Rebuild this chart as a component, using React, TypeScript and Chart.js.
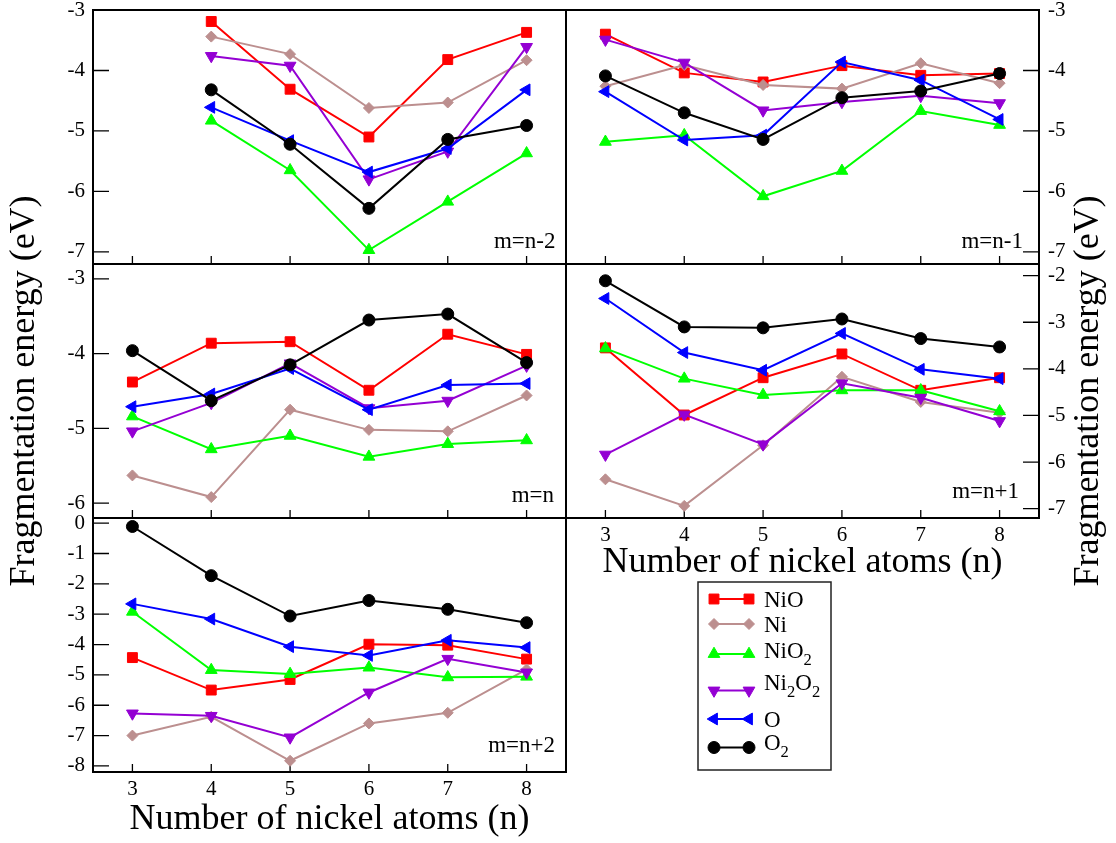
import React, { useEffect, useRef } from 'react';
import { Chart, registerables } from 'chart.js';
import { drawPoint } from 'chart.js/helpers';

Chart.register(...registerables);

const FONT = "'Liberation Serif', 'Times New Roman', Times, serif";

// ---------------- data ----------------
const N_ATOMS = [3, 4, 5, 6, 7, 8];
const X_TICKS = [3, 4, 5, 6, 7, 8];
const SERIES_NAMES = ['NiO', 'Ni', 'NiO₂', 'Ni₂O₂', 'O', 'O₂'];
const PANEL_LABELS = ['m=n-2', 'm=n-1', 'm=n', 'm=n+1', 'm=n+2'];
const X_TITLE = 'Number of nickel atoms (n)';
const Y_TITLE = 'Fragmentation energy (eV)';

const Y_TICKS_TOP = [-7, -6, -5, -4, -3];
const Y_TICKS_MID_L = [-6, -5, -4, -3];
const Y_TICKS_MID_R = [-7, -6, -5, -4, -3, -2];
const Y_TICKS_BOT = [-8, -7, -6, -5, -4, -3, -2, -1, 0];

// m = n-2
const NIO_M2 = [null, -3.19, -4.31, -5.10, -3.82, -3.37];
const NI_M2 = [null, -3.44, -3.73, -4.62, -4.53, -3.83];
const NIO2_M2 = [null, -4.83, -5.65, -6.97, -6.17, -5.37];
const NI2O2_M2 = [null, -3.76, -3.92, -5.80, -5.34, -3.61];
const O_M2 = [null, -4.61, -5.16, -5.68, -5.29, -4.32];
const O2_M2 = [null, -4.32, -5.22, -6.28, -5.14, -4.91];

// m = n-1
const NIO_M1 = [-3.40, -4.04, -4.19, -3.92, -4.08, -4.05];
const NI_M1 = [-4.26, -3.91, -4.24, -4.30, -3.88, -4.21];
const NIO2_M1 = [-5.18, -5.07, -6.08, -5.66, -4.67, -4.90];
const NI2O2_M1 = [-3.49, -3.87, -4.66, -4.52, -4.42, -4.54];
const O_M1 = [-4.35, -5.15, -5.07, -3.86, -4.16, -4.81];
const O2_M1 = [-4.09, -4.70, -5.14, -4.45, -4.34, -4.05];

// m = n
const NIO_M0 = [-4.38, -3.86, -3.84, -4.49, -3.74, -4.01];
const NI_M0 = [-5.63, -5.92, -4.75, -5.02, -5.04, -4.56];
const NIO2_M0 = [-4.84, -5.28, -5.10, -5.38, -5.21, -5.16];
const NI2O2_M0 = [-5.04, -4.66, -4.13, -4.73, -4.63, -4.16];
const O_M0 = [-4.71, -4.54, -4.20, -4.75, -4.42, -4.40];
const O2_M0 = [-3.96, -4.63, -4.15, -3.55, -3.47, -4.12];

// m = n+1
const NIO_P1 = [-3.55, -4.99, -4.19, -3.68, -4.46, -4.19];
const NI_P1 = [-6.37, -6.94, -5.64, -4.17, -4.71, -4.94];
const NIO2_P1 = [-3.56, -4.21, -4.56, -4.46, -4.46, -4.91];
const NI2O2_P1 = [-5.84, -4.98, -5.62, -4.31, -4.62, -5.12];
const O_P1 = [-2.49, -3.65, -4.03, -3.24, -4.01, -4.21];
const O2_P1 = [-2.11, -3.10, -3.12, -2.93, -3.35, -3.53];

// m = n+2
const NIO_P2 = [-4.43, -5.50, -5.15, -3.99, -4.02, -4.48];
const NI_P2 = [-7.00, -6.38, -7.83, -6.60, -6.25, -4.82];
const NIO2_P2 = [-2.92, -4.84, -4.97, -4.76, -5.08, -5.06];
const NI2O2_P2 = [-6.27, -6.35, -7.06, -5.58, -4.47, -4.92];
const O_P2 = [-2.66, -3.16, -4.07, -4.36, -3.86, -4.10];
const O2_P2 = [-0.11, -1.73, -3.06, -2.55, -2.84, -3.28];

// ---------------- styles ----------------
const STYLES = [
  { color: '#ff0000', pointStyle: 'rect', radius: 7, rotation: 0 },
  { color: '#bc8f8f', pointStyle: 'rectRot', radius: 5.5, rotation: 0 },
  { color: '#00ff00', pointStyle: 'triangle', radius: 6.8, rotation: 0 },
  { color: '#9400d3', pointStyle: 'triangle', radius: 6.8, rotation: 180 },
  { color: '#0000ff', pointStyle: 'triangle', radius: 6.8, rotation: 270 },
  { color: '#000000', pointStyle: 'circle', radius: 6, rotation: 0 },
];

const PAGE_W = 1116;
const PAGE_H = 843;

type Panel = {
  values: (number | null)[][];
  label: string;
  yMin: number;
  yMax: number;
  yTicks: number[];
  rect: { l: number; t: number; r: number; b: number };
  side: 'left' | 'right';
  xLabels: boolean;
  bottomPad: number;
  xTitlePad: number;
  yTitle: boolean;
  sideTitle: boolean;
  labelOff: [number, number];
  legend: boolean;
};

const PANELS: Panel[] = [
  {
    values: [NIO_M2, NI_M2, NIO2_M2, NI2O2_M2, O_M2, O2_M2], label: PANEL_LABELS[0],
    yMin: -7.2, yMax: -3, yTicks: Y_TICKS_TOP, rect: { l: 93, t: 10, r: 566, b: 264 },
    side: 'left', xLabels: false, bottomPad: 0, xTitlePad: 0, yTitle: false, sideTitle: false,
    labelOff: [10.5, 15.7], legend: false,
  },
  {
    values: [NIO_M1, NI_M1, NIO2_M1, NI2O2_M1, O_M1, O2_M1], label: PANEL_LABELS[1],
    yMin: -7.2, yMax: -3, yTicks: Y_TICKS_TOP, rect: { l: 566, t: 10, r: 1039, b: 264 },
    side: 'right', xLabels: false, bottomPad: 0, xTitlePad: 0, yTitle: false, sideTitle: false,
    labelOff: [16, 15.7], legend: false,
  },
  {
    values: [NIO_M0, NI_M0, NIO2_M0, NI2O2_M0, O_M0, O2_M0], label: PANEL_LABELS[2],
    yMin: -6.2, yMax: -2.8, yTicks: Y_TICKS_MID_L, rect: { l: 93, t: 264, r: 566, b: 518 },
    side: 'left', xLabels: false, bottomPad: 0, xTitlePad: 0, yTitle: true, sideTitle: false,
    labelOff: [12, 16.3], legend: false,
  },
  {
    values: [NIO_P1, NI_P1, NIO2_P1, NI2O2_P1, O_P1, O2_P1], label: PANEL_LABELS[3],
    yMin: -7.2, yMax: -1.75, yTicks: Y_TICKS_MID_R, rect: { l: 566, t: 264, r: 1039, b: 518 },
    side: 'right', xLabels: true, bottomPad: 257, xTitlePad: 1.5, yTitle: false, sideTitle: true,
    labelOff: [20, 19.7], legend: false,
  },
  {
    values: [NIO_P2, NI_P2, NIO2_P2, NI2O2_P2, O_P2, O2_P2], label: PANEL_LABELS[4],
    yMin: -8.2, yMax: 0.17, yTicks: Y_TICKS_BOT, rect: { l: 93, t: 518, r: 566, b: 772 },
    side: 'left', xLabels: true, bottomPad: 0, xTitlePad: 2, yTitle: false, sideTitle: false,
    labelOff: [11, 20.3], legend: true,
  },
];

const SUBS = '₀₁₂₃₄₅₆₇₈₉';

function drawRich(ctx: CanvasRenderingContext2D, text: string, x: number, y: number, size: number) {
  let cx = x;
  ctx.textAlign = 'left';
  ctx.textBaseline = 'alphabetic';
  for (const ch of text) {
    const idx = SUBS.indexOf(ch);
    if (idx >= 0) {
      ctx.font = `${size * 0.72}px ${FONT}`;
      const s = String(idx);
      ctx.fillText(s, cx, y + size * 0.3);
      cx += ctx.measureText(s).width;
    } else {
      ctx.font = `${size}px ${FONT}`;
      ctx.fillText(ch, cx, y);
      cx += ctx.measureText(ch).width;
    }
  }
}

const panelDecor = {
  id: 'panelDecor',
  beforeDatasetsDraw(chart: any, _args: any, o: any) {
    const { ctx, chartArea: a } = chart;
    const xs = chart.scales.x;
    const ys = chart.scales.y;
    ctx.save();
    ctx.strokeStyle = '#000';
    ctx.lineWidth = 1.3;
    ctx.beginPath();
    for (const t of xs.ticks) {
      const px = xs.getPixelForValue(t.value);
      ctx.moveTo(px, a.bottom);
      ctx.lineTo(px, a.bottom - 8);
    }
    for (const t of ys.ticks) {
      const py = ys.getPixelForValue(t.value);
      if (o.side === 'left') {
        ctx.moveTo(a.left, py);
        ctx.lineTo(a.left + 16, py);
      } else {
        ctx.moveTo(a.right, py);
        ctx.lineTo(a.right - 16, py);
      }
    }
    ctx.stroke();
    ctx.lineWidth = 2;
    ctx.strokeRect(a.left, a.top, a.right - a.left, a.bottom - a.top);
    ctx.restore();
  },
  afterDraw(chart: any, _args: any, o: any) {
    const { ctx, chartArea: a } = chart;
    ctx.save();
    ctx.fillStyle = '#000';
    ctx.font = `23px ${FONT}`;
    ctx.textAlign = 'right';
    ctx.textBaseline = 'alphabetic';
    ctx.fillText(o.label, a.right - o.labelOff[0], a.bottom - o.labelOff[1]);

    if (o.sideTitle) {
      ctx.save();
      ctx.translate(o.sideTitle.x, (a.top + a.bottom) / 2);
      ctx.rotate(-Math.PI / 2);
      ctx.font = `36px ${FONT}`;
      ctx.textAlign = 'center';
      ctx.textBaseline = 'middle';
      ctx.fillText(o.sideTitle.text, 0, 0);
      ctx.restore();
    }

    if (o.legend) {
      const L = o.legend;
      ctx.lineWidth = 1.5;
      ctx.strokeStyle = '#222';
      ctx.strokeRect(L.box[0], L.box[1], L.box[2] - L.box[0], L.box[3] - L.box[1]);
      chart.data.datasets.forEach((ds: any, i: number) => {
        const ly = L.lineY[i];
        ctx.strokeStyle = ds.borderColor;
        ctx.lineWidth = 2;
        ctx.beginPath();
        ctx.moveTo(L.x0, ly);
        ctx.lineTo(L.x1, ly);
        ctx.stroke();
        ctx.fillStyle = ds.pointBackgroundColor;
        ctx.strokeStyle = ds.pointBorderColor;
        ctx.lineWidth = 1;
        const po = { pointStyle: ds.pointStyle, rotation: ds.pointRotation, radius: ds.pointRadius, borderWidth: 1 };
        drawPoint(ctx, po as any, L.x0, ly);
        drawPoint(ctx, po as any, L.x1, ly);
        ctx.fillStyle = '#000';
        drawRich(ctx, ds.label, L.textX, L.baseY[i], 23);
      });
    }
    ctx.restore();
  },
};

function buildDatasets(values: (number | null)[][]) {
  return values.map((vals, i) => {
    const st = STYLES[i];
    return {
      label: SERIES_NAMES[i],
      data: N_ATOMS.map((n, k) => ({ x: n, y: vals[k] })).filter((p) => p.y !== null),
      borderColor: st.color,
      backgroundColor: st.color,
      borderWidth: 2,
      pointStyle: st.pointStyle,
      pointRadius: st.radius,
      pointHoverRadius: st.radius,
      pointRotation: st.rotation,
      pointBorderWidth: 1,
      pointBackgroundColor: st.color,
      pointBorderColor: st.color,
      tension: 0,
      order: values.length - i,
      clip: false,
    };
  });
}

function makeConfig(p: Panel): any {
  const yW = p.side === 'left' ? p.rect.l : PAGE_W - p.rect.r;
  const xH = p.xLabels ? PAGE_H - p.rect.b - p.bottomPad : 0;
  const padding = {
    left: p.side === 'left' ? 0 : p.rect.l,
    right: p.side === 'left' ? PAGE_W - p.rect.r : 0,
    top: p.rect.t,
    bottom: p.xLabels ? p.bottomPad : PAGE_H - p.rect.b,
  };
  const zeroPad = (s: any) => {
    s.paddingLeft = 0;
    s.paddingRight = 0;
    s.paddingTop = 0;
    s.paddingBottom = 0;
  };
  return {
    type: 'line',
    data: { datasets: buildDatasets(p.values) },
    plugins: [panelDecor],
    options: {
      animation: false,
      responsive: false,
      devicePixelRatio: 1,
      events: [],
      layout: { padding, autoPadding: false },
      plugins: {
        legend: { display: false },
        tooltip: { enabled: false },
        panelDecor: {
          side: p.side,
          label: p.label,
          labelOff: p.labelOff,
          sideTitle: p.sideTitle ? { text: Y_TITLE, x: 1089 } : null,
          legend: p.legend
            ? {
                box: [698, 582, 831, 770],
                x0: 714,
                x1: 749,
                textX: 764,
                lineY: [599, 624, 654, 690.5, 719, 747.5],
                baseY: [606.7, 631.7, 658.3, 690, 726.7, 750],
              }
            : null,
        },
      },
      scales: {
        x: {
          type: 'linear',
          min: 2.5,
          max: 8.5,
          display: p.xLabels,
          grid: { display: false, drawTicks: false, tickLength: 0 },
          border: { display: false },
          afterBuildTicks: (s: any) => {
            s.ticks = X_TICKS.map((v) => ({ value: v }));
          },
          afterFit: (s: any) => {
            s.height = xH;
            zeroPad(s);
          },
          ticks: {
            font: { size: 21, family: FONT },
            color: '#000',
            padding: 5,
            maxRotation: 0,
            autoSkip: false,
            callback: (v: any) => String(v),
          },
          title: {
            display: p.xLabels,
            text: X_TITLE,
            color: '#000',
            font: { size: 36, family: FONT },
            padding: { top: 0, bottom: p.xTitlePad },
          },
        },
        y: {
          type: 'linear',
          position: p.side,
          min: p.yMin,
          max: p.yMax,
          grid: { display: false, drawTicks: false, tickLength: 0 },
          border: { display: false },
          afterBuildTicks: (s: any) => {
            s.ticks = p.yTicks.map((v) => ({ value: v }));
          },
          afterFit: (s: any) => {
            s.width = yW;
            zeroPad(s);
          },
          ticks: {
            font: { size: 21, family: FONT },
            color: '#000',
            padding: p.side === 'left' ? 8 : 9,
            autoSkip: false,
            callback: (v: any) => String(v),
          },
          title: {
            display: p.yTitle,
            text: Y_TITLE,
            color: '#000',
            font: { size: 36, family: FONT },
            padding: { top: 3.4, bottom: 0 },
          },
        },
      },
    },
  };
}

export default function App() {
  const refs = useRef<(HTMLCanvasElement | null)[]>([]);

  useEffect(() => {
    Chart.defaults.font.family = FONT;
    Chart.defaults.color = '#000';
    const charts: Chart[] = [];
    PANELS.forEach((p, i) => {
      const c = refs.current[i];
      if (c) charts.push(new Chart(c, makeConfig(p)));
    });
    return () => charts.forEach((ch) => ch.destroy());
  }, []);

  return (
    <div
      style={{
        position: 'absolute',
        left: 0,
        top: 0,
        width: PAGE_W,
        height: PAGE_H,
        background: '#fff',
        overflow: 'hidden',
      }}
    >
      {PANELS.map((_, i) => (
        <canvas
          key={i}
          ref={(el) => {
            refs.current[i] = el;
          }}
          width={PAGE_W}
          height={PAGE_H}
          style={{ position: 'absolute', left: 0, top: 0, width: PAGE_W, height: PAGE_H }}
        />
      ))}
    </div>
  );
}
